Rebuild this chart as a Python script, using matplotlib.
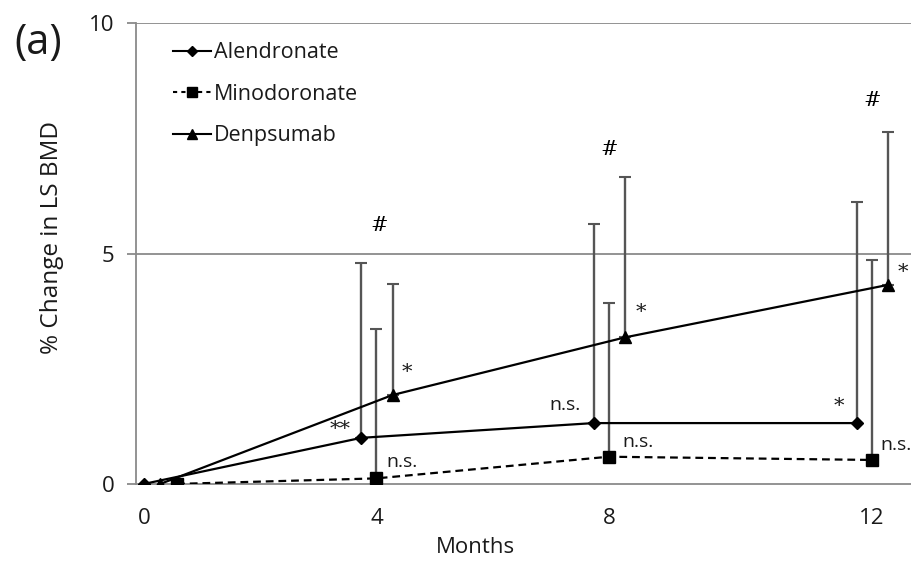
import matplotlib
matplotlib.use("Agg")
import matplotlib.pyplot as plt
import numpy as np
from matplotlib.lines import Line2D

# ---------------- data ----------------
months = [0, 4, 8, 12]
month_labels = ["0", "4", "8", "12"]
series_names = ["Alendronate", "Minodoronate", "Denpsumab"]

alendronate = [0.0, 1.00, 1.32, 1.32]
minodronate = [0.0, 0.12, 0.59, 0.52]
denosumab = [0.0, 1.93, 3.18, 4.32]

# top of the (upper-only) error bars at months 4, 8, 12
alendronate_upper = [4.79, 5.65, 6.12]
minodronate_upper = [3.36, 3.92, 4.87]
denosumab_upper = [4.33, 6.66, 7.63]

hash_labels = ["#", "#", "#"]

# ---------------- layout ----------------
month_axis_pos = [0, 4, 8, 12.53]          # where each month sits on the axis
offsets = {                                  # horizontal shift per series per point
    "A": [0.0, -0.26, -0.26, -0.26],
    "M": [0.57, 0.0, 0.0, 0.0],
    "D": [0.28, 0.28, 0.28, 0.28],
}

plt.rcParams["font.family"] = ["Open Sans", "DejaVu Sans"]

fig = plt.figure(figsize=(9.12, 5.64), dpi=100)
ax = fig.add_axes([0.149, 0.142, 0.851, 0.817])

def xs(key):
    return [p + o for p, o in zip(month_axis_pos, offsets[key])]

grey = "#8a8a8a"
ebc = "#555555"
txt = "#1a1a1a"

# gridlines at 5 and 10
for yv in [5, 10]:
    ax.axhline(yv, color=grey, lw=1.3, zorder=0)

def draw(key, vals, uppers, ls, marker, ms, z):
    x = xs(key)
    err_up = [u - v for u, v in zip(uppers, vals[1:])]
    ax.errorbar(x[1:], vals[1:], yerr=[np.zeros(len(err_up)), err_up],
                fmt="none", ecolor=ebc, elinewidth=1.7, capsize=4.5,
                capthick=1.5, zorder=2)
    ax.plot(x, vals, color="black", ls=ls, lw=1.6, marker=marker,
            markersize=ms, markerfacecolor="black", markeredgecolor="black",
            zorder=z)

draw("A", alendronate, alendronate_upper, "-", "D", 6, 3)
draw("M", minodronate, minodronate_upper, (0, (3.5, 2.2)), "s", 8.5, 3)
draw("D", denosumab, denosumab_upper, "-", "^", 8, 4)

ax.set_xlim(-0.14, 13.22)
ax.set_ylim(0, 10)
ax.set_yticks([0, 5, 10])
ax.set_xticks(month_axis_pos)
ax.set_xticklabels(month_labels)

for s in ["top", "right"]:
    ax.spines[s].set_visible(False)
ax.spines["left"].set_color(grey)
ax.spines["bottom"].set_color(grey)
ax.spines["left"].set_linewidth(1.3)
ax.spines["bottom"].set_linewidth(1.3)

ax.tick_params(axis="y", direction="out", length=6.5, width=1.3, color=grey,
               labelsize=16, pad=9, labelcolor=txt)
ax.tick_params(axis="x", length=0, labelsize=16, pad=17, labelcolor=txt)

ax.set_ylabel("% Change in LS BMD", fontsize=17.5, color=txt)
ax.yaxis.set_label_coords(-0.093, 0.535)
ax.set_xlabel("Months", fontsize=16, color=txt)
ax.xaxis.set_label_coords(0.437, -0.115)

# significance annotations
serif = ["DejaVu Serif"]
hash_pos = [(4.04, 5.6), (8.0, 7.25), (12.53, 8.31)]
for (hx, hy), lab in zip(hash_pos, hash_labels):
    ax.text(hx, hy, lab, ha="center", va="center", fontsize=15, family=serif)

ann = [
    (3.37, 1.17, "**", "center", serif, 15),
    (4.53, 2.41, "*", "center", serif, 15),
    (8.55, 3.71, "*", "center", serif, 15),
    (11.96, 1.67, "*", "center", serif, 15),
    (13.06, 4.58, "*", "center", serif, 15),
    (4.44, 0.48, "n.s.", "center", None, 14),
    (7.25, 1.71, "n.s.", "center", None, 14),
    (8.5, 0.91, "n.s.", "center", None, 14),
    (12.67, 0.85, "n.s.", "left", None, 14),
]
for x, y, t, ha, fam, fs in ann:
    kw = {"family": fam} if fam else {}
    ax.text(x, y, t, ha=ha, va="center", fontsize=fs, clip_on=False,
            color=txt, **kw)

# legend
handles = [
    Line2D([], [], color="black", lw=1.5, marker="D", markersize=5.5),
    Line2D([], [], color="black", lw=1.5, ls=(0, (2, 2)), marker="s", markersize=7),
    Line2D([], [], color="black", lw=1.5, marker="^", markersize=7),
]
leg = ax.legend(handles, series_names, loc="upper left",
                bbox_to_anchor=(0.023, 1.0), frameon=False, fontsize=15.5,
                handlelength=1.75, handletextpad=0.15, labelspacing=0.95,
                labelcolor=txt)

fig.text(0.016, 0.924, "(a)", fontsize=30, ha="left", va="center", color=txt)

fig.savefig("out.png", dpi=100)
